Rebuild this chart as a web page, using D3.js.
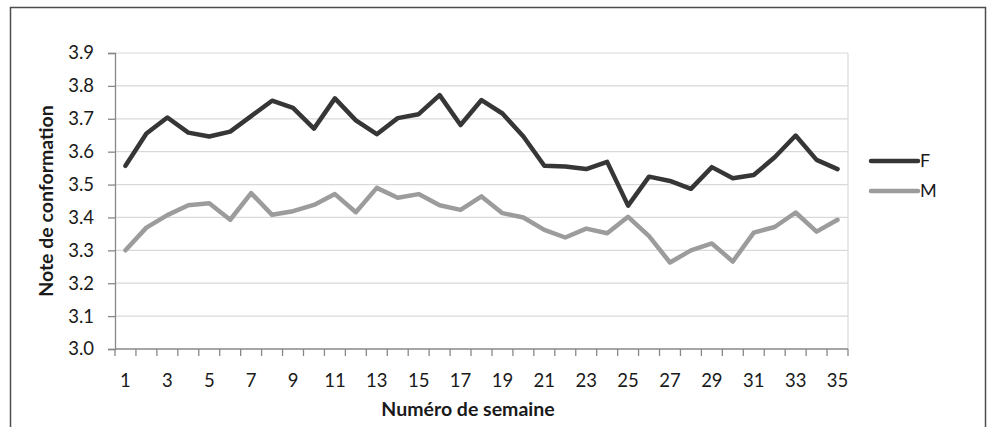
<!DOCTYPE html>
<html>
<head>
<meta charset="utf-8">
<script src="https://cdn.jsdelivr.net/npm/d3@7"></script>
<style>
  body { margin: 0; background: #fff; }
  svg text { font-family: Lato, "Open Sans", sans-serif; fill: #1a1a1a; }
</style>
</head>
<body>
<svg id="chart" width="992" height="427"></svg>
<script>
// weeks 1..35
const weeks = d3.range(1, 36);
const seriesNames = ['F', 'M'];
const valuesF = [3.557, 3.655, 3.704, 3.658, 3.646, 3.661, 3.708, 3.755, 3.733, 3.670,
  3.762, 3.695, 3.653, 3.702, 3.714, 3.772, 3.681, 3.757, 3.716, 3.646,
  3.557, 3.555, 3.547, 3.569, 3.436, 3.524, 3.511, 3.487, 3.553, 3.519,
  3.529, 3.583, 3.649, 3.575, 3.547];
const valuesM = [3.300, 3.369, 3.407, 3.437, 3.443, 3.393, 3.474, 3.408, 3.419, 3.438,
  3.471, 3.416, 3.490, 3.460, 3.471, 3.437, 3.423, 3.464, 3.413, 3.400,
  3.362, 3.339, 3.366, 3.352, 3.402, 3.343, 3.263, 3.300, 3.321, 3.266,
  3.354, 3.371, 3.415, 3.357, 3.393];
const yTicks = [3.0, 3.1, 3.2, 3.3, 3.4, 3.5, 3.6, 3.7, 3.8, 3.9];
const xLabels = weeks.filter(w => w % 2 === 1);
const colors = { F: '#363636', M: '#9c9c9c' };

const svg = d3.select('#chart');
const plot = { left: 115, right: 848, top: 53, bottom: 349 };

// outer frame
svg.append('rect')
  .attr('x', 10.5).attr('y', 7.5)
  .attr('width', 975).attr('height', 440)
  .attr('fill', 'none')
  .attr('stroke', '#4d4d4d')
  .attr('stroke-width', 1.5);

const x = d3.scaleBand()
  .domain(weeks)
  .range([plot.left, plot.right]);

const y = d3.scaleLinear()
  .domain([3.0, 3.9])
  .range([plot.bottom, plot.top]);

// gridlines
svg.append('g')
  .selectAll('line')
  .data(yTicks.filter(d => d > 3.0))
  .enter().append('line')
  .attr('x1', plot.left).attr('x2', plot.right)
  .attr('y1', d => y(d)).attr('y2', d => y(d))
  .attr('stroke', '#d9d9d9')
  .attr('stroke-width', 1.2);

// right border of plot area
svg.append('line')
  .attr('x1', plot.right).attr('x2', plot.right)
  .attr('y1', plot.top).attr('y2', plot.bottom)
  .attr('stroke', '#d9d9d9')
  .attr('stroke-width', 1.2);

// y axis
const yAxis = svg.append('g')
  .attr('transform', `translate(${plot.left},0)`)
  .call(d3.axisLeft(y).tickValues(yTicks).tickFormat(d3.format('.1f')).tickSize(7).tickPadding(14));
yAxis.select('.domain').attr('stroke', '#888').attr('stroke-width', 1.3);
yAxis.selectAll('.tick line').attr('stroke', '#888').attr('stroke-width', 1.3);
yAxis.selectAll('.tick text')
  .style('font-size', '18.5px')
  .style('font-family', 'Lato, sans-serif')
  .attr('fill', '#1a1a1a');

// x axis: ticks between categories
const xAxisG = svg.append('g')
  .attr('transform', `translate(0,${plot.bottom})`);
xAxisG.append('line')
  .attr('x1', plot.left).attr('x2', plot.right)
  .attr('stroke', '#888').attr('stroke-width', 1.3);
const boundaries = weeks.map(w => x(w)).concat([x(weeks[weeks.length - 1]) + x.bandwidth()]);
xAxisG.selectAll('line.tk')
  .data(boundaries)
  .enter().append('line')
  .attr('class', 'tk')
  .attr('x1', d => d).attr('x2', d => d)
  .attr('y1', 0).attr('y2', 7)
  .attr('stroke', '#888').attr('stroke-width', 1.3);
xAxisG.selectAll('text')
  .data(xLabels)
  .enter().append('text')
  .attr('x', d => x(d) + x.bandwidth() / 2)
  .attr('y', 38)
  .attr('text-anchor', 'middle')
  .style('font-size', '18.5px')
  .text(d => d);

// axis titles
svg.append('text')
  .attr('x', 468).attr('y', 416)
  .attr('text-anchor', 'middle')
  .style('font-size', '19.5px')
  .style('font-weight', 'bold')
  .text('Numéro de semaine');

svg.append('text')
  .attr('transform', `translate(53,${(plot.top + plot.bottom) / 2}) rotate(-90)`)
  .attr('text-anchor', 'middle')
  .style('font-size', '19.5px')
  .style('font-weight', 'bold')
  .text('Note de conformation');

// lines
const line = d3.line()
  .x((d, i) => x(weeks[i]) + x.bandwidth() / 2)
  .y(d => y(d));

const series = [
  { name: 'F', values: valuesF },
  { name: 'M', values: valuesM }
];

svg.selectAll('path.series')
  .data(series)
  .enter().append('path')
  .attr('class', 'series')
  .attr('d', d => line(d.values))
  .attr('fill', 'none')
  .attr('stroke', d => colors[d.name])
  .attr('stroke-width', 4.5)
  .attr('stroke-linejoin', 'round')
  .attr('stroke-linecap', 'round');

// legend
const legend = svg.append('g');
seriesNames.forEach((name, i) => {
  const ly = 161 + i * 30;
  legend.append('line')
    .attr('x1', 871).attr('x2', 918)
    .attr('y1', ly).attr('y2', ly)
    .attr('stroke', colors[name])
    .attr('stroke-width', 4.5)
    .attr('stroke-linecap', 'round');
  legend.append('text')
    .attr('x', 920).attr('y', ly + 6)
    .style('font-size', '18px')
    .text(name);
});
</script>
</body>
</html>
